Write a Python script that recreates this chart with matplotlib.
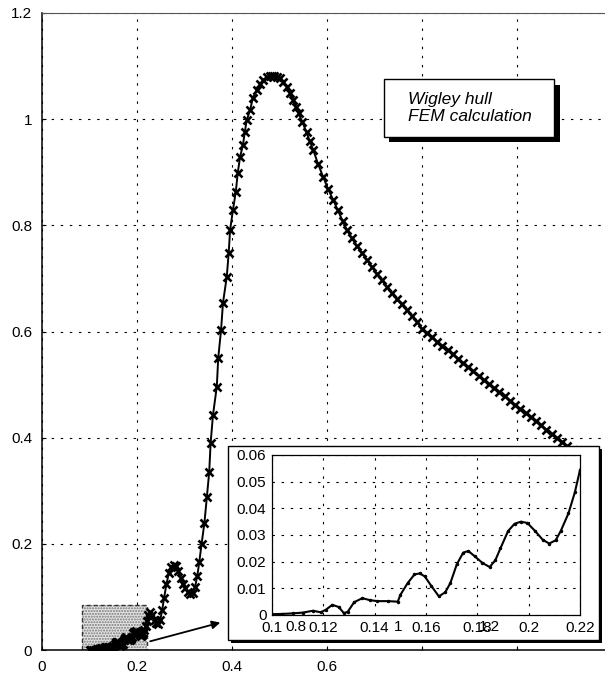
import numpy as np
import matplotlib
matplotlib.use("Agg")
import matplotlib.pyplot as plt
from matplotlib.patches import Rectangle

plt.rcParams["font.family"] = ["Liberation Sans", "DejaVu Sans"]

# low speed range, also shown in the inset
x_low = [0.100, 0.104, 0.108, 0.112, 0.116, 0.119, 0.121, 0.1235, 0.126, 0.128,
         0.1295, 0.132, 0.1352, 0.138, 0.141, 0.145, 0.149, 0.150, 0.1528, 0.1555,
         0.1575, 0.1595, 0.162, 0.165, 0.1675, 0.1695, 0.172, 0.1745, 0.1765, 0.179,
         0.182, 0.1848, 0.187, 0.189, 0.192, 0.1945, 0.197, 0.1995, 0.2025, 0.2055,
         0.208, 0.2105, 0.2125, 0.2155, 0.218, 0.220]
y_low = [0.0003, 0.0004, 0.0006, 0.0009, 0.0016, 0.0010, 0.0020, 0.0038, 0.0030, 0.0007,
         0.0012, 0.0048, 0.0063, 0.0056, 0.0052, 0.0052, 0.0050, 0.0075, 0.0119, 0.0152,
         0.0156, 0.0145, 0.0110, 0.0070, 0.0085, 0.0120, 0.0190, 0.0234, 0.0240, 0.0220,
         0.0195, 0.0180, 0.0205, 0.0250, 0.0315, 0.0342, 0.0350, 0.0345, 0.0315, 0.0282,
         0.0268, 0.0280, 0.0315, 0.0381, 0.0460, 0.0544]

# humps before the main peak
x_hump = [0.224, 0.228, 0.232, 0.237, 0.241, 0.245, 0.249, 0.253, 0.257, 0.262,
          0.267, 0.272, 0.277, 0.282, 0.287, 0.292, 0.297, 0.302, 0.307, 0.312,
          0.317, 0.322, 0.327, 0.331]
y_hump = [0.065, 0.071, 0.066, 0.057, 0.051, 0.049, 0.057, 0.075, 0.098, 0.124,
          0.145, 0.157, 0.161, 0.158, 0.148, 0.136, 0.125, 0.116, 0.110, 0.106,
          0.107, 0.118, 0.140, 0.165]

# steep rise and main peak
x_peak = [0.336, 0.342, 0.347, 0.352, 0.355, 0.360, 0.368, 0.371, 0.377, 0.381,
          0.389, 0.393, 0.396, 0.402, 0.408, 0.412, 0.417, 0.423, 0.427, 0.431,
          0.438, 0.444, 0.452, 0.459, 0.466, 0.473, 0.479, 0.484, 0.489, 0.495,
          0.501, 0.508, 0.515, 0.522, 0.529, 0.535, 0.540]
y_peak = [0.200, 0.240, 0.288, 0.335, 0.390, 0.443, 0.496, 0.550, 0.603, 0.654,
          0.703, 0.748, 0.791, 0.829, 0.863, 0.898, 0.929, 0.951, 0.976, 0.998,
          1.017, 1.040, 1.055, 1.066, 1.074, 1.079, 1.081, 1.081, 1.081, 1.080,
          1.077, 1.070, 1.061, 1.049, 1.036, 1.023, 1.011]

# high speed tail
x_tail = [0.548, 0.557, 0.564, 0.571, 0.581, 0.592, 0.602, 0.613, 0.623, 0.633,
          0.642, 0.652, 0.663, 0.674, 0.684, 0.694, 0.705, 0.715, 0.726, 0.736,
          0.747, 0.757, 0.768, 0.779, 0.790, 0.800, 0.810, 0.821, 0.832, 0.843,
          0.854, 0.865, 0.876, 0.886, 0.897, 0.908, 0.919, 0.930, 0.941, 0.952,
          0.963, 0.974, 0.985, 0.996, 1.007, 1.018, 1.029, 1.040, 1.051, 1.062,
          1.073, 1.084, 1.095, 1.106, 1.117, 1.128, 1.139, 1.150]
y_tail = [0.995, 0.975, 0.958, 0.942, 0.916, 0.891, 0.869, 0.848, 0.828, 0.808,
          0.791, 0.776, 0.761, 0.748, 0.735, 0.722, 0.709, 0.697, 0.684, 0.673,
          0.661, 0.651, 0.641, 0.630, 0.618, 0.605, 0.597, 0.589, 0.581, 0.573,
          0.565, 0.557, 0.549, 0.541, 0.533, 0.525, 0.517, 0.509, 0.501, 0.494,
          0.486, 0.478, 0.470, 0.462, 0.454, 0.446, 0.439, 0.431, 0.423, 0.415,
          0.407, 0.399, 0.391, 0.384, 0.376, 0.369, 0.361, 0.354]

main_xticks = [0, 0.2, 0.4, 0.6, 0.8, 1.0, 1.2]
main_xlabels = ["0", "0.2", "0.4", "0.6", "", "", ""]
main_yticks = [0, 0.2, 0.4, 0.6, 0.8, 1.0, 1.2]
main_ylabels = ["0", "0.2", "0.4", "0.6", "0.8", "1", "1.2"]
inset_xticks = [0.1, 0.12, 0.14, 0.16, 0.18, 0.2, 0.22]
inset_xlabels = ["0.1", "0.12", "0.14", "0.16", "0.18", "0.2", "0.22"]
inset_yticks = [0, 0.01, 0.02, 0.03, 0.04, 0.05, 0.06]
inset_ylabels = ["0", "0.01", "0.02", "0.03", "0.04", "0.05", "0.06"]

W, H = 605, 677


def rect(x0, y0, x1, y1):
    # pixel box (from top left) -> figure fraction [l, b, w, h]
    return [x0 / W, 1 - y1 / H, (x1 - x0) / W, (y1 - y0) / H]


grid_style = dict(color="black", linewidth=0.8, linestyle=(0, (2.2, 6)))

fig = plt.figure(figsize=(W / 100, H / 100), dpi=100)

x_all = np.concatenate([x_low, x_hump, x_peak, x_tail])
y_all = np.concatenate([y_low, y_hump, y_peak, y_tail])

ax = fig.add_axes(rect(42, 13, 612, 650))
ax.set_xlim(0, 1.2)
ax.set_ylim(0, 1.2)
ax.grid(True, **grid_style)
ax.set_axisbelow(True)
ax.plot(x_all, y_all, color="black", linewidth=1.4, marker="x", markersize=6,
        markeredgewidth=1.9, zorder=3)

# zoom region and arrow to the inset
ax.add_patch(Rectangle((0.085, 0), 0.135, 0.085, facecolor="#e4e4e4",
                       edgecolor="#777777", hatch="......", linewidth=0, zorder=2))
ax.add_patch(Rectangle((0.085, 0), 0.135, 0.085, fill=False, edgecolor="#333333",
                       linestyle=(0, (3, 2)), linewidth=1, zorder=2))
ax.annotate("", xy=(0.381, 0.053), xytext=(0.222, 0.015),
            arrowprops=dict(arrowstyle="-|>", color="black", lw=1.3,
                            mutation_scale=12), zorder=4)

ax.set_xticks(main_xticks)
ax.set_xticklabels(main_xlabels)
ax.set_yticks(main_yticks)
ax.set_yticklabels(main_ylabels)
ax.tick_params(direction="in", length=3, labelsize=11, pad=7)
ax.spines["right"].set_visible(False)
ax.spines["top"].set_color("#555555")
ax.spines["top"].set_linewidth(0.8)
ax.spines["left"].set_linewidth(1.1)
ax.spines["bottom"].set_linewidth(1.1)

# legend box with drop shadow
fig.add_artist(Rectangle((389 / W, 1 - 142 / H), 171 / W, 57 / H,
                         transform=fig.transFigure, facecolor="black",
                         edgecolor="none", zorder=2))
fig.add_artist(Rectangle((384 / W, 1 - 137 / H), 170 / W, 58 / H,
                         transform=fig.transFigure, facecolor="white",
                         edgecolor="black", linewidth=1, zorder=2.1))
fig.text(408 / W, 1 - 108 / H, "Wigley hull\nFEM calculation", fontsize=12.5,
         style="italic", ha="left", va="center", linespacing=1.1, zorder=2.2)

# inset frame with shadow
fig.add_artist(Rectangle((231 / W, 1 - 643 / H), 371 / W, 194 / H,
                         transform=fig.transFigure, facecolor="black",
                         edgecolor="none", zorder=2))
fig.add_artist(Rectangle((228 / W, 1 - 640 / H), 371 / W, 194 / H,
                         transform=fig.transFigure, facecolor="white",
                         edgecolor="black", linewidth=1, zorder=2.1))

axi = fig.add_axes(rect(272, 455, 580, 615), zorder=5)
axi.set_xlim(0.1, 0.22)
axi.set_ylim(0, 0.06)
axi.grid(True, **grid_style)
axi.set_axisbelow(True)
axi.plot(x_low, y_low, color="black", linewidth=1.5, marker=".", markersize=3,
         zorder=3)
axi.set_xticks(inset_xticks)
axi.set_xticklabels(inset_xlabels)
axi.set_yticks(inset_yticks)
axi.set_yticklabels(inset_ylabels)
axi.tick_params(direction="in", length=0, labelsize=11, pad=4)
for s in axi.spines.values():
    s.set_linewidth(0.9)

# stray main-axis labels that ended up inside the inset
for lab, xp in [("0.8", 296), ("1", 398), ("1.2", 489)]:
    fig.text(xp / W, 1 - 627 / H, lab, fontsize=11, ha="center", va="center",
             zorder=6)

fig.savefig("out.png", dpi=100)
